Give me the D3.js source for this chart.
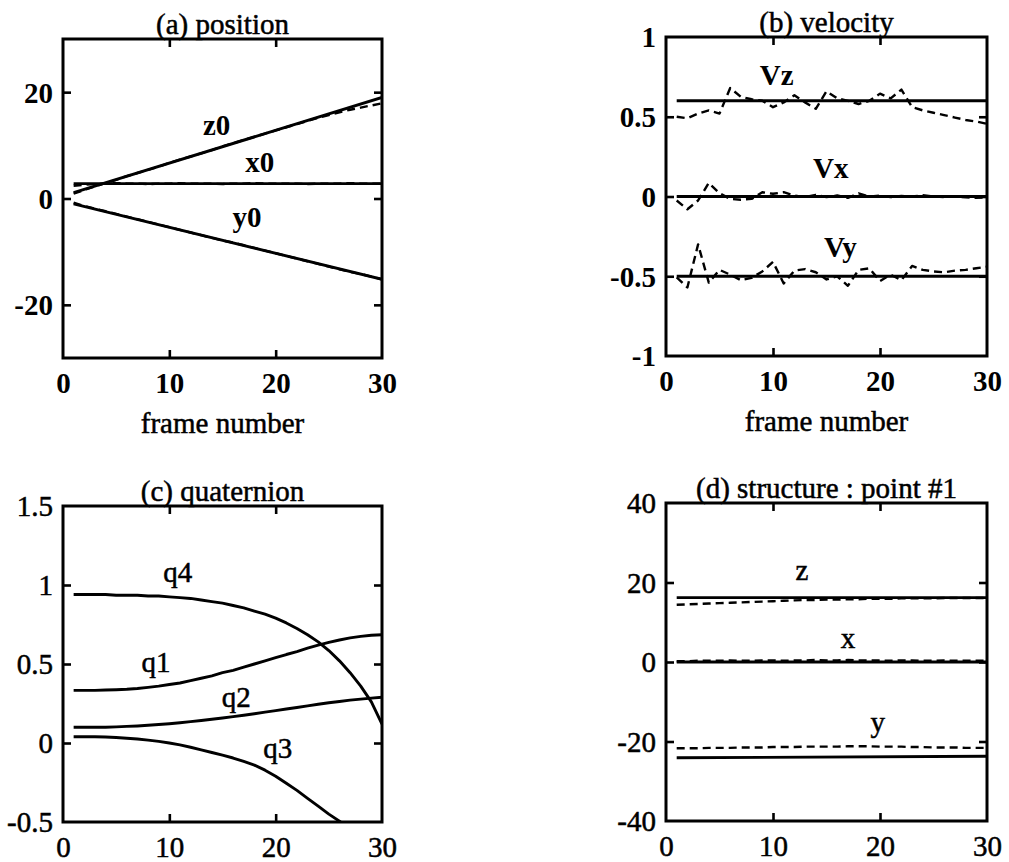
<!DOCTYPE html>
<html><head><meta charset="utf-8">
<script src="https://cdn.jsdelivr.net/npm/d3@7"></script>
<style>
html,body{margin:0;padding:0;background:#fff;}
svg{display:block;}
text{font-family:"Liberation Serif","Times New Roman",serif;fill:#000;}
text.reg{stroke:#000;stroke-width:0.5px;}
</style></head><body>
<svg id="chart" width="1009" height="862"></svg>
<script>
// ---------- data ----------
const frames = [1,2,3,4,5,6,7,8,9,10,11,12,13,14,15,16,17,18,19,20,21,22,23,24,25,26,27,28,29,30];
const endFrames = [1, 30];
const xTickLabels = [0, 10, 20, 30];
const xInnerTicks = [10, 20];

// (a) position
const posTicks = [-20, 0, 20];
const z0True = [1.1, 19.0];
const x0True = [2.8, 2.8];
const y0True = [-1.0, -15.2];
const z0Est = [0.9,1.6,2.3,2.9,3.5,4.2,4.8,5.4,6.0,6.7,7.3,7.9,8.5,9.1,9.8,10.4,11.0,11.6,12.2,12.8,13.4,14.0,14.6,15.2,15.7,16.2,16.7,17.1,17.5,17.9];
const x0Est = [2.4,2.6,2.7,2.8,2.9,2.8,2.8,2.7,2.8,2.8,2.9,2.8,2.8,2.8,2.7,2.8,2.8,2.9,2.8,2.8,2.8,2.8,2.7,2.8,2.8,2.8,2.9,2.8,2.8,2.8];
const y0Est = [-0.8,-1.4,-1.9,-2.4,-2.9,-3.4,-3.9,-4.4,-4.9,-5.4,-5.9,-6.4,-6.9,-7.4,-7.9,-8.3,-8.8,-9.3,-9.8,-10.3,-10.8,-11.3,-11.8,-12.3,-12.8,-13.3,-13.8,-14.2,-14.7,-15.2];

// (b) velocity
const velTicks = [-1, -0.5, 0, 0.5, 1];
const vzTrue = [0.6, 0.6];
const vxTrue = [0, 0];
const vyTrue = [-0.5, -0.5];
const vzEst = [0.50,0.49,0.52,0.54,0.52,0.68,0.625,0.61,0.60,0.56,0.59,0.635,0.59,0.55,0.66,0.615,0.60,0.58,0.60,0.645,0.615,0.67,0.56,0.54,0.525,0.51,0.495,0.48,0.47,0.455];
const vxEst = [-0.025,-0.08,-0.025,0.085,0.02,-0.015,-0.02,-0.015,0.027,0.017,0.027,0.006,-0.004,0.01,-0.004,0.006,-0.008,0.02,0.0,0.005,-0.004,0.003,0.0,0.008,0.0,-0.003,0.0,-0.005,-0.008,-0.005];
const vyEst = [-0.507,-0.57,-0.30,-0.54,-0.46,-0.49,-0.525,-0.51,-0.47,-0.41,-0.545,-0.465,-0.455,-0.475,-0.52,-0.50,-0.56,-0.46,-0.45,-0.53,-0.49,-0.525,-0.435,-0.46,-0.47,-0.475,-0.465,-0.46,-0.45,-0.44];

// (c) quaternion
const quatTicks = [-0.5, 0, 0.5, 1, 1.5];
const q1 = [0.333,0.333,0.333,0.335,0.337,0.34,0.345,0.352,0.36,0.37,0.38,0.395,0.41,0.425,0.445,0.46,0.48,0.50,0.52,0.54,0.56,0.578,0.60,0.62,0.637,0.652,0.665,0.675,0.682,0.685];
const q2 = [0.10,0.10,0.10,0.10,0.102,0.105,0.108,0.112,0.117,0.122,0.128,0.135,0.142,0.15,0.158,0.167,0.176,0.185,0.195,0.205,0.215,0.225,0.235,0.245,0.255,0.263,0.271,0.278,0.284,0.29];
const q3 = [0.04,0.04,0.04,0.038,0.035,0.03,0.025,0.018,0.01,0.0,-0.012,-0.027,-0.043,-0.06,-0.077,-0.095,-0.117,-0.14,-0.172,-0.21,-0.255,-0.30,-0.35,-0.40,-0.45,-0.495,-0.545,-0.60,-0.65,-0.70];
const q4 = [0.94,0.94,0.94,0.94,0.935,0.935,0.935,0.93,0.93,0.925,0.92,0.915,0.905,0.895,0.885,0.87,0.855,0.835,0.815,0.79,0.76,0.725,0.685,0.64,0.585,0.52,0.445,0.36,0.26,0.12];

// (d) structure : point #1
const structTicks = [-40, -20, 0, 20, 40];
const zTrue = [16.2, 16.2];
const xTrue = [0, 0];
const yTrue = [-24.1, -23.7];
const zEst = [14.4,14.5,14.6,14.7,14.8,14.9,15.0,15.1,15.2,15.3,15.4,15.5,15.6,15.6,15.7,15.7,15.8,15.8,15.9,15.9,15.9,16.0,16.0,16.0,16.0,16.1,16.1,16.1,16.1,16.1];
const xEst = [0.2,0.2,0.3,0.3,0.3,0.4,0.3,0.3,0.4,0.4,0.3,0.4,0.4,0.5,0.4,0.4,0.5,0.4,0.4,0.4,0.3,0.4,0.4,0.3,0.3,0.4,0.3,0.3,0.3,0.3];
const yEst = [-21.7,-21.7,-21.7,-21.6,-21.6,-21.6,-21.5,-21.5,-21.5,-21.4,-21.4,-21.4,-21.3,-21.3,-21.3,-21.3,-21.2,-21.2,-21.2,-21.3,-21.3,-21.3,-21.4,-21.4,-21.5,-21.5,-21.5,-21.6,-21.6,-21.6];

// ---------- drawing ----------
const svg = d3.select('#chart');
const FONT = 29;

function panel(cfg) {
  const g = svg.append('g');
  const x = d3.scaleLinear().domain([0, 30]).range([cfg.left, cfg.right]);
  const y = d3.scaleLinear().domain(cfg.yDomain).range([cfg.bottom, cfg.top]);
  const clipId = 'clip' + cfg.id;
  svg.append('clipPath').attr('id', clipId).append('rect')
    .attr('x', cfg.left).attr('y', cfg.top)
    .attr('width', cfg.right - cfg.left).attr('height', cfg.bottom - cfg.top);

  const line = d3.line().x(d => x(d[0])).y(d => y(d[1]));
  const lg = g.append('g').attr('clip-path', `url(#${clipId})`);
  cfg.series.forEach(s => {
    lg.append('path')
      .datum(s.xs.map((f, i) => [f, s.ys[i]]))
      .attr('d', line)
      .attr('fill', 'none')
      .attr('stroke', '#000')
      .attr('stroke-width', s.dashed ? 2.4 : 2.9)
      .attr('stroke-dasharray', s.dashed ? '8,5' : null)
      .attr('stroke-linejoin', 'round');
  });

  // inward ticks on all four sides
  const inner = cfg.yTicks.filter(v => v !== cfg.yDomain[0] && v !== cfg.yDomain[1]);
  const tickStyle = sel => {
    sel.select('.domain').remove();
    sel.selectAll('line').attr('stroke', '#000').attr('stroke-width', 2.6);
    sel.selectAll('text').remove();
  };
  g.append('g').attr('transform', `translate(0,${cfg.bottom})`)
    .call(d3.axisBottom(x).tickValues(xInnerTicks).tickSize(-8)).call(tickStyle);
  g.append('g').attr('transform', `translate(0,${cfg.top})`)
    .call(d3.axisTop(x).tickValues(xInnerTicks).tickSize(-8)).call(tickStyle);
  g.append('g').attr('transform', `translate(${cfg.left},0)`)
    .call(d3.axisLeft(y).tickValues(inner).tickSize(-8)).call(tickStyle);
  g.append('g').attr('transform', `translate(${cfg.right},0)`)
    .call(d3.axisRight(y).tickValues(inner).tickSize(-8)).call(tickStyle);

  // box
  g.append('rect')
    .attr('x', cfg.left).attr('y', cfg.top)
    .attr('width', cfg.right - cfg.left).attr('height', cfg.bottom - cfg.top)
    .attr('fill', 'none').attr('stroke', '#000').attr('stroke-width', 3);

  // tick labels
  const fw = cfg.boldTicks ? 'bold' : 'normal';
  const cls = cfg.boldTicks ? null : 'reg';
  const xa = g.append('g').attr('transform', `translate(0,${cfg.bottom})`)
    .call(d3.axisBottom(x).tickValues(xTickLabels).tickSize(0).tickFormat(d => String(d)));
  xa.select('.domain').remove();
  xa.selectAll('text').attr('y', 35).attr('dy', null).attr('class', cls)
    .style('font-size', FONT + 'px').style('font-weight', fw)
    .style('font-family', '"Liberation Serif",serif').attr('fill', '#000');
  const ya = g.append('g').attr('transform', `translate(${cfg.left},0)`)
    .call(d3.axisLeft(y).tickValues(cfg.yTicks).tickSize(0).tickPadding(10).tickFormat(d => String(d)));
  ya.select('.domain').remove();
  ya.selectAll('text').attr('dy', '0.34em').attr('class', cls)
    .style('font-size', FONT + 'px').style('font-weight', fw)
    .style('font-family', '"Liberation Serif",serif').attr('fill', '#000');

  // title
  g.append('text').attr('class', 'reg')
    .attr('x', (cfg.left + cfg.right) / 2).attr('y', cfg.top - 5)
    .attr('text-anchor', 'middle').style('font-size', FONT + 'px')
    .text(cfg.title);
  if (cfg.xTitle) {
    g.append('text').attr('class', 'reg')
      .attr('x', (cfg.left + cfg.right) / 2).attr('y', cfg.bottom + 75)
      .attr('text-anchor', 'middle').style('font-size', FONT + 'px')
      .text(cfg.xTitle);
  }
  // curve labels (placed in data units)
  cfg.labels.forEach(l => {
    g.append('text').attr('class', cfg.boldLabels ? null : 'reg')
      .attr('x', x(l.at[0])).attr('y', y(l.at[1]))
      .attr('text-anchor', 'middle')
      .style('font-size', FONT + 'px')
      .style('font-weight', cfg.boldLabels ? 'bold' : 'normal')
      .text(l.text);
  });
}

panel({
  id: 'a', left: 63, right: 382, top: 39, bottom: 358,
  yDomain: [-30, 30], yTicks: posTicks, boldTicks: true, boldLabels: true,
  title: '(a) position', xTitle: 'frame number',
  series: [
    {xs: endFrames, ys: z0True}, {xs: endFrames, ys: x0True}, {xs: endFrames, ys: y0True},
    {xs: frames, ys: z0Est, dashed: true}, {xs: frames, ys: x0Est, dashed: true}, {xs: frames, ys: y0Est, dashed: true}
  ],
  labels: [{text: 'z0', at: [14.45, 11.9]}, {text: 'x0', at: [18.5, 5.0]}, {text: 'y0', at: [17.3, -5.4]}]
});

panel({
  id: 'b', left: 666, right: 987, top: 37, bottom: 356,
  yDomain: [-1, 1], yTicks: velTicks, boldTicks: true, boldLabels: true,
  title: '(b) velocity', xTitle: 'frame number',
  series: [
    {xs: endFrames, ys: vzTrue}, {xs: endFrames, ys: vxTrue}, {xs: endFrames, ys: vyTrue},
    {xs: frames, ys: vzEst, dashed: true}, {xs: frames, ys: vxEst, dashed: true}, {xs: frames, ys: vyEst, dashed: true}
  ],
  labels: [{text: 'Vz', at: [10.35, 0.70]}, {text: 'Vx', at: [15.4, 0.116]}, {text: 'Vy', at: [16.3, -0.38]}]
});

panel({
  id: 'c', left: 63, right: 382, top: 506, bottom: 822,
  yDomain: [-0.5, 1.5], yTicks: quatTicks, boldTicks: false, boldLabels: false,
  title: '(c) quaternion',
  series: [{xs: frames, ys: q1}, {xs: frames, ys: q2}, {xs: frames, ys: q3}, {xs: frames, ys: q4}],
  labels: [{text: 'q4', at: [10.8, 1.02]}, {text: 'q1', at: [8.75, 0.45]}, {text: 'q2', at: [16.3, 0.23]}, {text: 'q3', at: [20.2, -0.095]}]
});

panel({
  id: 'd', left: 666, right: 987, top: 503, bottom: 821,
  yDomain: [-40, 40], yTicks: structTicks, boldTicks: false, boldLabels: false,
  title: '(d) structure : point #1',
  series: [
    {xs: endFrames, ys: zTrue}, {xs: endFrames, ys: xTrue}, {xs: endFrames, ys: yTrue},
    {xs: frames, ys: zEst, dashed: true}, {xs: frames, ys: xEst, dashed: true}, {xs: frames, ys: yEst, dashed: true}
  ],
  labels: [{text: 'z', at: [12.7, 20.6]}, {text: 'x', at: [17.0, 3.5]}, {text: 'y', at: [19.8, -17.5]}]
});
</script>
</body></html>
